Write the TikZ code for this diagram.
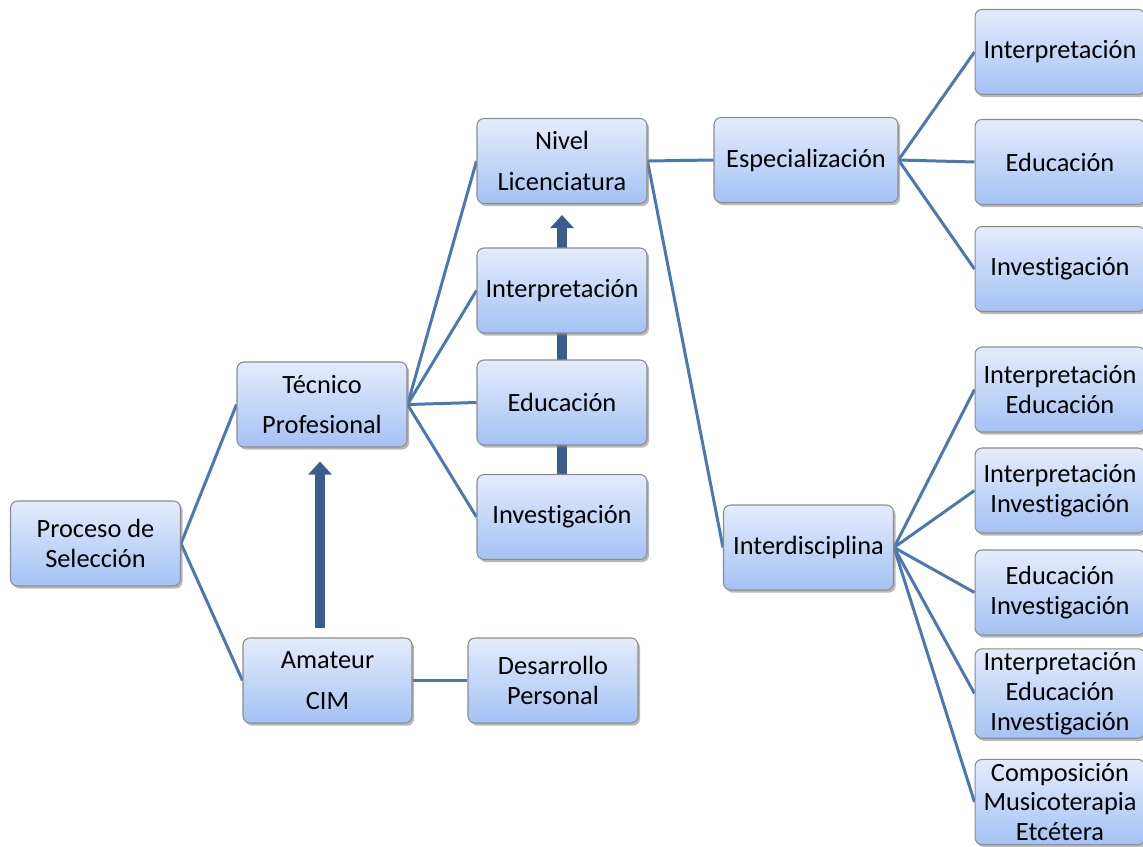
\documentclass[tikz,border=0pt]{standalone}
\usepackage{fontspec}
\setmainfont{Carlito}[Ligatures=NoCommon]
\usetikzlibrary{arrows.meta,shadows,backgrounds}

\definecolor{linkblue}{RGB}{74,120,178}
\definecolor{arrowblue}{RGB}{57,94,142}
\definecolor{boxtop}{RGB}{228,236,251}
\definecolor{boxbottom}{RGB}{164,194,244}

\tikzset{
	caja/.style={draw=black!45, line width=0.6pt, rounded corners=4pt,
		top color=boxtop, bottom color=boxbottom,
		minimum width=3.4cm, minimum height=1.7cm, inner sep=2pt,
		align=center, font=\fontsize{15}{17}\selectfont,
		drop shadow={shadow xshift=1.2pt, shadow yshift=-1.5pt, fill=black!50, opacity=0.55}},
	enlace/.style={draw=linkblue, line width=1.7pt},
	flecha/.style={draw=arrowblue, line width=0.2cm,
		-{Triangle[width=0.46cm, length=0.26cm]}}
}

\begin{document}
\begin{tikzpicture}[x=0.02cm, y=-0.02cm]
		%%%%% START %%%%%
		\useasboundingbox (0, 0) rectangle (1143, 846);
		
		\node[caja] (proceso) at (95.5, 543.5) {Proceso de\\Selección};
		\node[caja] (tecnico) at (322, 404.5) {Técnico\\[0.22cm]Profesional};
		\node[caja, minimum width=3.38cm] (amateur) at (327.5, 680.5) {Amateur\\[0.22cm]CIM};
		\node[caja] (desarrollo) at (553, 680.5) {Desarrollo\\Personal};
		
		\node[caja] (nivel) at (562, 161) {Nivel\\[0.22cm]Licenciatura};
		\node[caja] (interpA) at (562, 290.5) {Interpretación};
		\node[caja] (educA) at (562, 402.5) {Educación};
		\node[caja] (investA) at (562, 517) {Investigación};
		
		\node[caja, minimum width=3.68cm] (especial) at (806, 160) {Especialización};
		\node[caja] (interdis) at (808.5, 547.5) {Interdisciplina};
		
		% columna derecha
		\node[caja] (espA) at (1060, 52) {Interpretación};
		\node[caja] (espB) at (1060, 162) {Educación};
		\node[caja] (espC) at (1060, 269) {Investigación};
		
		\node[caja] (intA) at (1060, 389.5) {Interpretación\\Educación};
		\node[caja] (intB) at (1060, 490.5) {Interpretación\\Investigación};
		\node[caja] (intC) at (1060, 592.5) {Educación\\Investigación};
		\node[caja] (intD) at (1060, 693.5) {Interpretación\\Educación\\Investigación};
		\node[caja] (intE) at (1060, 802) {Composición\\Musicoterapia\\Etcétera};
		
		\begin{scope}[on background layer]
			\draw[enlace] (proceso.east) -- (tecnico.west);
			\draw[enlace] (proceso.east) -- (amateur.west);
			\draw[enlace] (amateur.east) -- (desarrollo.west);
			
			\foreach \n in {nivel, interpA, educA, investA}
				\draw[enlace] (tecnico.east) -- (\n.west);
			
			\draw[enlace] (nivel.east) -- (especial.west);
			\draw[enlace] (nivel.east) -- (interdis.west);
			
			\foreach \n in {espA, espB, espC}
				\draw[enlace] (especial.east) -- (\n.west);
			\foreach \n in {intA, intB, intC, intD, intE}
				\draw[enlace] (interdis.east) -- (\n.west);
			
			\draw[flecha, shorten <=0.18cm, shorten >=0.28cm]
				([xshift=-0.15cm]amateur.north) -- ([xshift=-0.15cm]amateur.north |- tecnico.south);
			\draw[flecha, shorten >=0.22cm] (investA.north) -- (nivel.south);
		\end{scope}
		
		%%%%% END %%%%%
\end{tikzpicture}
\end{document}
